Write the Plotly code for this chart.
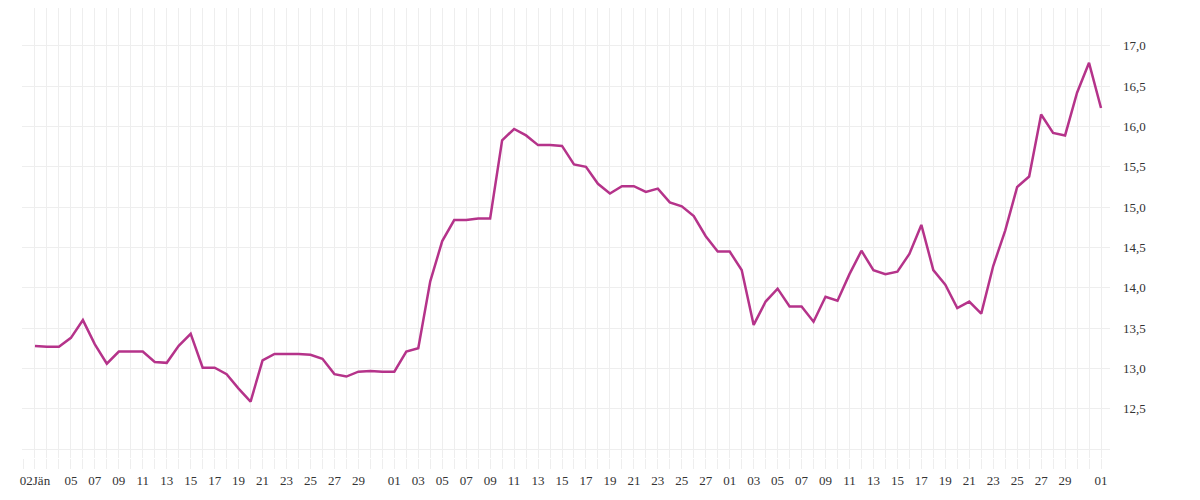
import plotly.graph_objects as go
import pandas as pd

dates = pd.date_range("2023-01-02", "2023-04-01", freq="D")
values = [13.28,13.27,13.27,13.38,13.6,13.3,13.06,13.21,13.21,13.21,13.08,13.07,13.28,13.43,13.01,13.01,12.93,12.75,12.59,13.1,
          13.18,13.18,13.18,13.17,13.12,12.93,12.9,12.96,12.97,12.96,
          12.96,13.21,13.25,14.08,14.58,14.84,14.84,14.86,14.86,15.83,15.97,15.89,15.77,15.77,15.76,15.53,15.5,15.29,15.17,15.26,
          15.26,15.19,15.23,15.06,15.01,14.89,14.64,14.45,
          14.45,14.22,13.54,13.83,13.99,13.77,13.77,13.58,13.89,13.84,14.17,14.46,14.22,14.17,14.2,14.42,14.78,14.22,14.04,13.75,
          13.83,13.68,14.27,14.71,15.25,15.38,16.15,15.92,15.89,16.42,16.79,
          16.23]

tick_dates = [pd.Timestamp("2023-01-02")] + [d for d in dates if d.day % 2 == 1 and d.day != 31 and not (d.month == 1 and d.day < 5)]
tick_text = ["02Jän"] + [f"{d.day:02d}" for d in tick_dates[1:]]

y_ticks = [12.0 + 0.5 * i for i in range(12)]
y_text = [("" if v in (12.0, 17.5) else f"{v:.1f}".replace(".", ",")) for v in y_ticks]

fig = go.Figure(go.Scatter(x=dates, y=values, mode="lines",
                           line=dict(color="#b5338a", width=2.5)))
fig.update_layout(
    width=1200, height=500, margin=dict(l=14, r=98, t=0, b=50),
    plot_bgcolor="white", paper_bgcolor="white", showlegend=False,
    font=dict(family="Liberation Serif", size=13, color="#333"),
)
fig.update_xaxes(range=[pd.Timestamp("2022-12-31 22:00"), pd.Timestamp("2023-04-01 18:00")],
                 tickvals=tick_dates, ticktext=tick_text, showgrid=True, gridcolor="#eeeeee",
                 ticks="outside", ticklen=10, tickcolor="#eeeeee",
                 minor=dict(dtick=86400000, showgrid=True, gridcolor="#eeeeee", ticks="outside", ticklen=10, tickcolor="#eeeeee"),
                 zeroline=False, showline=False)
fig.update_yaxes(range=[11.89, 17.47], side="right", tickvals=y_ticks, ticktext=y_text,
                 showgrid=True, gridcolor="#eeeeee", zeroline=False, ticks="", ticklabelstandoff=12)
fig.write_html("out.html")
